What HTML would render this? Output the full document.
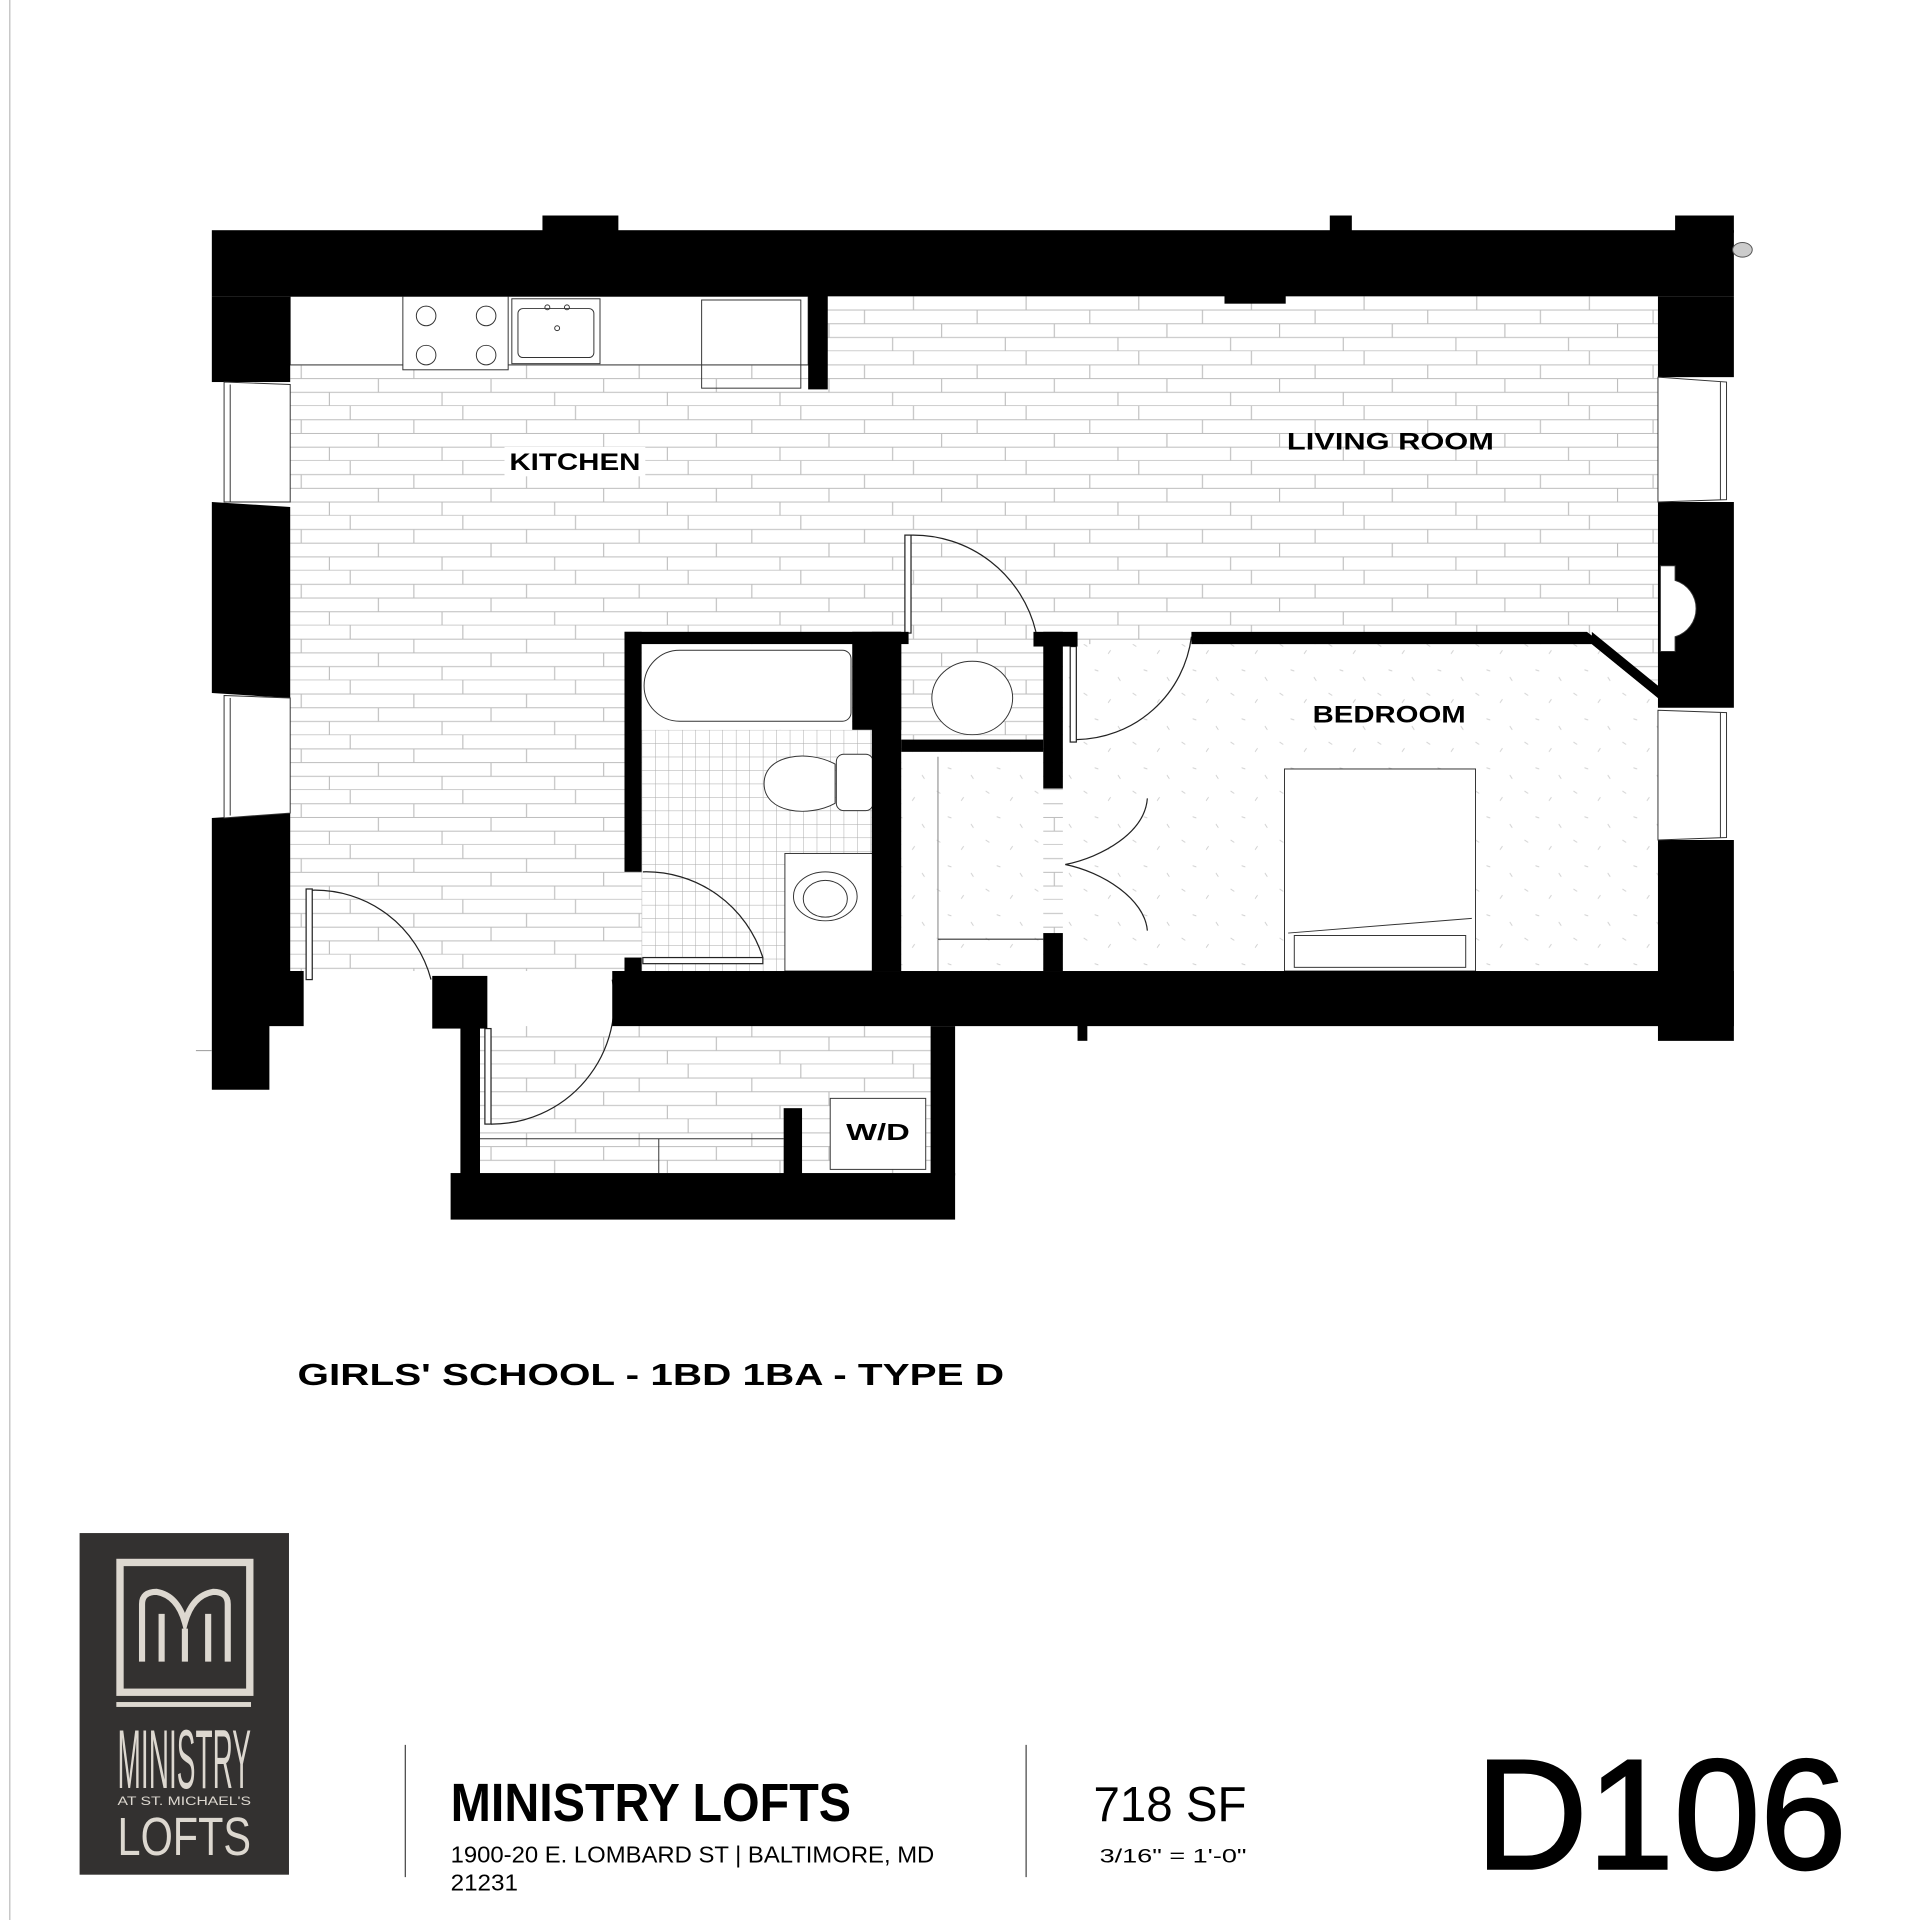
<!DOCTYPE html>
<html><head><meta charset="utf-8"><style>
html,body{margin:0;padding:0;background:#fff;}
svg{display:block;}
</style></head><body>
<svg width="1920" height="1920" viewBox="0 0 1568 1568" xmlns="http://www.w3.org/2000/svg" font-family="Liberation Sans, sans-serif">
<defs>
<pattern id="brick" x="0" y="242" width="92" height="44.8" patternUnits="userSpaceOnUse">
<rect width="92" height="44.8" fill="#fff"/>
<g stroke="#bdbdbd" stroke-width="0.9">
<line x1="0" y1="11.2" x2="92" y2="11.2"/><line x1="0" y1="22.4" x2="92" y2="22.4"/><line x1="0" y1="33.6" x2="92" y2="33.6"/><line x1="0" y1="44.6" x2="92" y2="44.6"/>
<line x1="10" y1="0" x2="10" y2="11.2"/><line x1="62" y1="11.2" x2="62" y2="22.4"/><line x1="33" y1="22.4" x2="33" y2="33.6"/><line x1="85" y1="33.6" x2="85" y2="44.8"/>
</g></pattern>
<pattern id="tile" x="524" y="596" width="11" height="11" patternUnits="userSpaceOnUse">
<rect width="11" height="11" fill="#fff"/><path d="M0 0H11M0 0V11" stroke="#aaa" stroke-width="0.8"/></pattern>
<pattern id="speck" width="40" height="40" patternUnits="userSpaceOnUse">
<rect width="40" height="40" fill="#fff"/>
<g stroke="#ccc" stroke-width="0.7"><line x1="5" y1="6" x2="8" y2="8"/><line x1="25" y1="14" x2="27" y2="11"/><line x1="14" y1="27" x2="17" y2="28"/><line x1="33" y1="33" x2="35" y2="36"/></g></pattern>
</defs>
<rect width="1568" height="1568" fill="#fff"/>
<line x1="8" y1="0" x2="8" y2="1568" stroke="#bbb" stroke-width="1"/>

<!-- floors -->
<rect x="237" y="242" width="1117" height="551" fill="url(#brick)"/>
<rect x="392" y="838" width="368" height="120" fill="url(#brick)"/>
<polygon points="868,526 1300,526 1354,570 1354,793 868,793" fill="url(#speck)"/>
<rect x="736" y="614" width="116" height="179" fill="url(#speck)"/>
<rect x="524" y="596" width="188" height="197" fill="url(#tile)"/>
<rect x="524" y="526" width="172" height="70" fill="#fff"/>

<!-- kitchen counter -->
<rect x="237" y="242" width="423" height="56" fill="#fff" stroke="#333" stroke-width="0.8"/>
<rect x="329" y="242" width="86" height="60" fill="#fff" stroke="#333" stroke-width="0.8"/>
<g fill="none" stroke="#333" stroke-width="0.8">
<circle cx="348" cy="258" r="8"/><circle cx="397" cy="258" r="8"/><circle cx="348" cy="290" r="8"/><circle cx="397" cy="290" r="8"/>
<rect x="418" y="244" width="72" height="53"/><rect x="423" y="252" width="62" height="40" rx="4"/>
<circle cx="455" cy="268" r="2"/><circle cx="447" cy="251" r="2"/><circle cx="463" cy="251" r="2"/>
<rect x="573" y="245" width="81" height="72"/>
</g>
<!-- bath fixtures -->
<g fill="#fff" stroke="#333" stroke-width="0.8">
<path d="M555 531H688a7 7 0 0 1 7 7V582a7 7 0 0 1-7 7H555a22 22 0 0 1 0-58Z"/>
<ellipse cx="794" cy="570" rx="33" ry="30"/>
<rect x="683" y="616" width="30" height="46" rx="6"/>
<path d="M682 624C660 612 624 616 624 640C624 664 660 668 682 656Z"/>
<rect x="641" y="697" width="72" height="96"/>
<ellipse cx="674" cy="732" rx="26" ry="20"/><ellipse cx="674" cy="734" rx="18" ry="15"/>
<rect x="1049" y="628" width="156" height="165"/>
<line x1="1052" y1="762" x2="1202" y2="750"/>
<rect x="1057" y="764" width="140" height="26"/>
<rect x="678" y="897" width="78" height="58"/>
<line x1="392" y1="930" x2="640" y2="930"/>
<line x1="538" y1="930" x2="538" y2="958"/>
</g>
<text x="717" y="931" font-size="19" font-weight="bold" text-anchor="middle" textLength="52" lengthAdjust="spacingAndGlyphs">W/D</text>

<!-- doors -->
<g fill="none" stroke="#222" stroke-width="1">
<rect x="739" y="437" width="5" height="80" fill="#fff"/><path d="M744 437A103 103 0 0 1 846 516"/>
<rect x="874" y="528" width="5" height="78" fill="#fff"/><path d="M879 604A96 96 0 0 0 973 520"/>
<rect x="250" y="726" width="5" height="74" fill="#fff"/><path d="M255 727A98 98 0 0 1 352 800"/>
<rect x="396" y="840" width="5" height="78" fill="#fff"/><path d="M401 918A100 100 0 0 0 500 800"/>
<rect x="525" y="782" width="98" height="5" fill="#fff"/><path d="M525 712A100 100 0 0 1 623 782"/>
<path d="M870 706C900 700 935 680 937 652"/><path d="M870 706C900 712 935 734 937 760"/>
<line x1="766" y1="618" x2="766" y2="793" stroke="#999"/><line x1="766" y1="767" x2="852" y2="767" stroke="#333"/>
</g>

<!-- walls -->
<g fill="#000">
<rect x="173" y="188" width="1243" height="54"/>
<rect x="443" y="176" width="62" height="14"/><rect x="1086" y="176" width="18" height="14"/><rect x="1368" y="176" width="48" height="14"/>
<rect x="1000" y="240" width="50" height="8"/>
<rect x="660" y="240" width="16" height="78"/>
<rect x="173" y="242" width="64" height="70"/>
<polygon points="173,410 237,414 237,570 173,566"/>
<polygon points="173,668 237,664 237,793 248,793 248,838 220,838 220,890 173,890"/>
<rect x="1354" y="242" width="62" height="66"/>
<polygon points="1354,410 1416,410 1416,578 1354,578 1354,570 1300,526 1300,516 1354,560"/>
<polygon points="1354,686 1416,686 1416,850 1354,850"/>
<rect x="500" y="793" width="916" height="45"/>
<rect x="353" y="797" width="45" height="43"/>
<rect x="880" y="836" width="8" height="14"/>
<rect x="376" y="838" width="16" height="122"/>
<rect x="368" y="958" width="412" height="38"/>
<rect x="760" y="838" width="20" height="122"/>
<rect x="640" y="905" width="15" height="55"/>
<rect x="510" y="516" width="232" height="10"/>
<rect x="510" y="516" width="14" height="196"/>
<rect x="510" y="782" width="14" height="15"/>
<rect x="696" y="516" width="40" height="80"/>
<rect x="712" y="516" width="24" height="277"/>
<rect x="736" y="604" width="116" height="10"/>
<rect x="852" y="516" width="16" height="128"/>
<rect x="852" y="762" width="16" height="31"/>
<rect x="844" y="516" width="36" height="12"/>
<polygon points="973,516 1296,516 1354,560 1354,570 1300,526 973,526"/>
</g>
<!-- windows -->
<g fill="#fff" stroke="#333" stroke-width="0.8">
<polygon points="183,312 237,314 237,410 183,410"/><line x1="188" y1="314" x2="188" y2="410"/>
<polygon points="183,568 237,570 237,664 183,668"/><line x1="188" y1="570" x2="188" y2="666"/>
<polygon points="1354,308 1410,312 1410,408 1354,410"/><line x1="1405" y1="312" x2="1405" y2="408"/>
<polygon points="1354,580 1410,582 1410,684 1354,686"/><line x1="1405" y1="582" x2="1405" y2="684"/>
<path d="M1356 462H1368V474A24 24 0 0 1 1368 520V532H1356Z"/>
</g>
<ellipse cx="1423" cy="204" rx="8" ry="6" fill="#ccc" stroke="#555" stroke-width="0.8"/>
<line x1="160" y1="858" x2="173" y2="858" stroke="#999" stroke-width="0.8"/>

<!-- labels -->
<g font-weight="bold" font-size="20">
<rect x="412" y="365" width="115" height="24" fill="#fff"/>
<text x="416" y="384" textLength="107" lengthAdjust="spacingAndGlyphs">KITCHEN</text>
<text x="1051" y="367" textLength="169" lengthAdjust="spacingAndGlyphs">LIVING ROOM</text>
<text x="1072" y="590" textLength="125" lengthAdjust="spacingAndGlyphs">BEDROOM</text>
</g>
<text x="243" y="1131" font-size="25" font-weight="bold" textLength="577" lengthAdjust="spacingAndGlyphs">GIRLS' SCHOOL - 1BD 1BA - TYPE D</text>

<!-- logo -->
<rect x="65" y="1252" width="171" height="279" fill="#333130"/>
<rect x="98" y="1276" width="106" height="106" fill="none" stroke="#ddd8d0" stroke-width="6"/>
<g fill="none" stroke="#ddd8d0" stroke-width="5">
<path d="M116 1357V1310Q116 1300 128 1300Q145 1303 151 1325Q157 1303 174 1300Q186 1300 186 1310V1357"/>
<path d="M132 1357V1318M170 1357V1318M151 1357V1330"/>
</g>
<rect x="95" y="1390" width="110" height="4" fill="#ddd8d0"/>
<g fill="#ddd8d0">
<text x="96" y="1460" font-size="68" textLength="109" lengthAdjust="spacingAndGlyphs">MINISTRY</text>
<text x="96" y="1474" font-size="10" textLength="109" lengthAdjust="spacingAndGlyphs">AT ST. MICHAEL'S</text>
<text x="96" y="1515" font-size="44" textLength="109" lengthAdjust="spacingAndGlyphs">LOFTS</text>
</g>

<!-- title block -->
<line x1="331" y1="1425" x2="331" y2="1533" stroke="#444" stroke-width="1"/>
<line x1="838" y1="1425" x2="838" y2="1533" stroke="#444" stroke-width="1"/>
<text x="368" y="1487" font-size="44" font-weight="bold" textLength="327" lengthAdjust="spacingAndGlyphs">MINISTRY LOFTS</text>
<text x="368" y="1521" font-size="19" textLength="395" lengthAdjust="spacingAndGlyphs">1900-20 E. LOMBARD ST  |  BALTIMORE, MD</text>
<text x="368" y="1544" font-size="19" textLength="55" lengthAdjust="spacingAndGlyphs">21231</text>
<text x="893" y="1487" font-size="40" textLength="125" lengthAdjust="spacingAndGlyphs">718 SF</text>
<text x="898" y="1521" font-size="16" textLength="120" lengthAdjust="spacingAndGlyphs">3/16" = 1'-0"</text>
<text x="1205" y="1526" font-size="128" stroke="#000" stroke-width="2" textLength="303" lengthAdjust="spacingAndGlyphs">D106</text>
</svg>
</body></html>
